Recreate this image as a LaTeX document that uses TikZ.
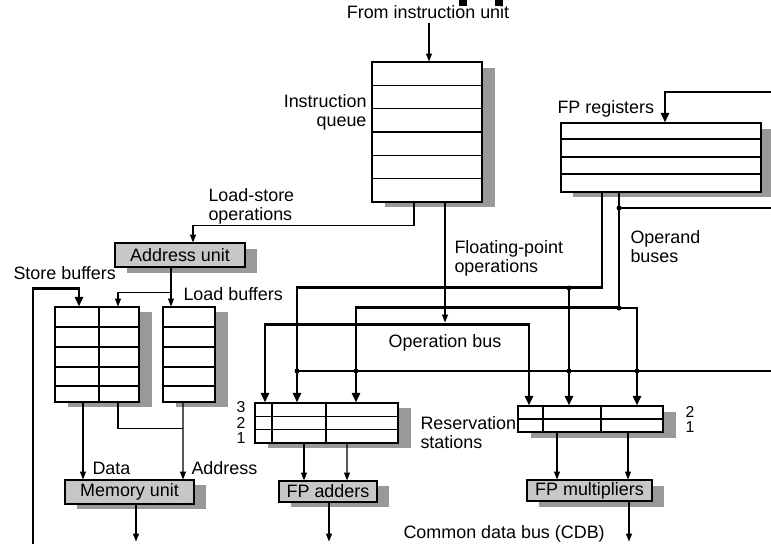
\documentclass[tikz,border=0pt]{standalone}
\usepackage{fontspec}
\setmainfont{Liberation Sans}
\usepackage{tikz}
\usetikzlibrary{arrows.meta, calc}

\begin{document}
\begin{tikzpicture}[
        x=0.02cm, y=-0.02cm,
        line width=0.6pt,
        every node/.style={font=\fontsize{10.2}{10.8}\selectfont},
        txt/.style={inner sep=0pt},
        digit/.style={inner sep=0pt, font=\fontsize{9}{9}\selectfont},
        unitbox/.style={draw, fill=black!22, inner sep=0pt},
        regbox/.style={draw, fill=white, inner sep=0pt},
        shadowfill/.style={fill=black!40},
        wire/.style={line width=0.7pt, -{Triangle[length=4.5pt, width=3.4pt]}},
        busline/.style={line width=1.6pt},
        busarrow/.style={busline, -{Triangle[length=5.5pt, width=4.6pt]}},
        jdot/.style={circle, fill=black, inner sep=0pt, minimum size=0.1cm}
    ]
    \useasboundingbox (0,0) rectangle (771,544);

    % shadows
    \fill[shadowfill] (385,68) rectangle (495,207);
    \fill[shadowfill] (573,129) rectangle (773,197);
    \fill[shadowfill] (127,249) rectangle (257,273);
    \fill[shadowfill] (68,312) rectangle (152,407);
    \fill[shadowfill] (176,312) rectangle (228,407);
    \fill[shadowfill] (77,485) rectangle (206,509);
    \fill[shadowfill] (268,408) rectangle (411,448);
    \fill[shadowfill] (531,412) rectangle (676,438);
    \fill[shadowfill] (291,486) rectangle (389,507);
    \fill[shadowfill] (539,486) rectangle (664,507);

    % boxes
    \node[regbox, minimum width=2.2cm, minimum height=2.8cm] (queue) at (427,132) {};
    \node[regbox, minimum width=4cm, minimum height=1.38cm] (regs) at (661,157.5) {};
    \node[unitbox, minimum width=2.6cm, minimum height=0.48cm] (addr) at (180,255) {Address unit};
    \node[regbox, minimum width=1.68cm, minimum height=1.9cm] (store) at (97,354.5) {};
    \node[regbox, minimum width=1.04cm, minimum height=1.9cm] (load) at (189,354.5) {};
    \node[unitbox, minimum width=2.58cm, minimum height=0.48cm] (mem) at (129.5,492) {Memory unit};
    \node[regbox, minimum width=2.86cm, minimum height=0.8cm] (rsadd) at (326.5,423) {};
    \node[regbox, minimum width=2.9cm, minimum height=0.52cm] (rsmul) at (590.5,419) {};
    \node[unitbox, minimum width=1.96cm, minimum height=0.42cm] (fpadd) at (328,491.5) {FP adders};
    \node[unitbox, minimum width=2.5cm, minimum height=0.42cm] (fpmul) at (589.5,490.5) {FP multipliers};

    % rows inside the boxes
    \draw (372,85.3) -- (482,85.3) (372,108.7) -- (482,108.7) (372,132) -- (482,132)
        (372,155.3) -- (482,155.3) (372,178.7) -- (482,178.7);
    \draw (561,139) -- (761,139) (561,157) -- (761,157) (561,174) -- (761,174);
    \draw (55,327) -- (139,327) (55,347) -- (139,347) (55,367) -- (139,367)
        (55,386) -- (139,386) (99,307) -- (99,402);
    \draw (163,327) -- (215,327) (163,347) -- (215,347) (163,367) -- (215,367)
        (163,386) -- (215,386);
    \draw (255,416.3) -- (398,416.3) (255,429.7) -- (398,429.7)
        (272,403) -- (272,443) (326,403) -- (326,443);
    \draw (518,419) -- (663,419) (543,406) -- (543,432) (601,406) -- (601,432);

    % labels
    \node[txt, anchor=base] (fromiu) at (428,19) {From instruction unit};
    \node[txt, anchor=north east, align=right] (lqueue) at (367,94) {Instruction\\queue};
    \node[txt, anchor=north west, align=left] (lls) at (208,188) {Load-store\\operations};
    \node[txt, anchor=north west, align=left] (lfpo) at (454,240) {Floating-point\\operations};
    \node[txt, anchor=north west, align=left] (loperand) at (630,230) {Operand\\buses};
    \node[txt, anchor=base west] (lregs) at (557,113) {FP registers};
    \node[txt, anchor=base west] (lstore) at (13,279) {Store buffers};
    \node[txt, anchor=base west] (lload) at (183,300) {Load buffers};
    \node[txt, anchor=base] (lopbus) at (445,347) {Operation bus};
    \node[txt, anchor=north west, align=left] (lrs) at (420,416) {Reservation\\stations};
    \node[txt, anchor=base west] (ldata) at (92,474) {Data};
    \node[txt, anchor=base west] (laddress) at (191,474) {Address};
    \node[txt, anchor=base west] (lcdb) at (403,538) {Common data bus (CDB)};
    \node[digit] (n3) at (241,407) {3};
    \node[digit] (n2) at (241,423) {2};
    \node[digit] (n1) at (241,438.5) {1};
    \node[digit] (m2) at (690,412) {2};
    \node[digit] (m1) at (690,427.5) {1};

    % bus joints and free ends
    \node[jdot] (ja) at (569,288) {};
    \node[jdot] (jb) at (619,308) {};
    \node[jdot] (jc) at (619,208) {};
    \node[jdot] (jd) at (297,371) {};
    \node[jdot] (je) at (356,371) {};
    \node[jdot] (jf) at (569,371) {};
    \node[jdot] (jg) at (637,371) {};
    \coordinate (regin) at (776,92);
    \coordinate (regright) at (776,208);
    \coordinate (cdbright) at (776,371);
    \coordinate (cdbleft) at (33,550);

    % instruction queue
    \draw[wire] ($(fromiu.south)+(1,3)$) -- ($(queue.north)+(2,0)$);
    \draw[wire] ($(queue.south)+(-13,0)$) -- ++(0,23) -| ($(addr.north)+(13,0)$);
    \draw[wire] ($(queue.south)+(18,0)$) -- ++(0,120);

    % load and store side
    \draw[wire] ($(addr.south)+(-9,0)$) -- ($(load.north)+(-18,0)$);
    \draw[wire] ($(addr.south)+(-9,25)$) -| ($(store.north)+(21,0)$);
    \draw[busarrow] (cdbleft) |- ($(store.north)+(-18,-18)$) -- ($(store.north)+(-18,0)$);
    \draw[wire] ($(store.south)+(-14,0)$) -- ($(mem.north)+(-46.5,0)$);
    \draw[wire] ($(load.south)+(-6,0)$) -- ($(mem.north)+(53.5,0)$);
    \draw[line width=0.7pt] ($(store.south)+(21,0)$) |- ($(load.south)+(-6,26)$);
    \draw[wire] ($(mem.south)+(6.5,0)$) -- ++(0,37);

    % reservation stations to the units
    \draw[wire] ($(rsadd.south)+(-22.5,0)$) -- ($(fpadd.north)+(-24,0)$);
    \draw[wire] ($(rsadd.south)+(20.5,0)$) -- ($(fpadd.north)+(19,0)$);
    \draw[wire] ($(fpadd.south)+(1,0)$) -- ++(0,39);
    \draw[wire] ($(rsmul.south)+(-33.5,0)$) -- ($(fpmul.north)+(-32.5,0)$);
    \draw[wire] ($(rsmul.south)+(37.5,0)$) -- ($(fpmul.north)+(38.5,0)$);
    \draw[wire] ($(fpmul.south)+(39.5,0)$) -- ++(0,40);

    % operation bus
    \draw[busline, {Triangle[length=5.5pt, width=4.6pt]}-{Triangle[length=5.5pt, width=4.6pt]}]
        ($(rsadd.north)+(-61.5,0)$) |- ($(rsmul.north)+(-61.5,-81)$) -- ($(rsmul.north)+(-61.5,0)$);

    % operand buses
    \draw[busarrow] ($(regs.south)+(-59,0)$) |- ($(rsadd.north)+(-29.5,-115)$) -- ($(rsadd.north)+(-29.5,0)$);
    \draw[busarrow] ($(regs.south)+(-42,0)$) |- ($(rsadd.north)+(29.5,-95)$) -- ($(rsadd.north)+(29.5,0)$);
    \draw[busarrow] (ja.center) -- ($(rsmul.north)+(-21.5,0)$);
    \draw[busarrow] (jb.center) -| ($(rsmul.north)+(46.5,0)$);
    \draw[busline] (jc.center) -- (regright);
    \draw[busarrow] (regin) -| ($(regs.north)+(4,0)$);

    % common data bus
    \draw[busline] (cdbright) -- (jd.center);

    \fill (459,0) rectangle (467,6);
    \fill (495,0) rectangle (503,6);

\end{tikzpicture}
\end{document}
